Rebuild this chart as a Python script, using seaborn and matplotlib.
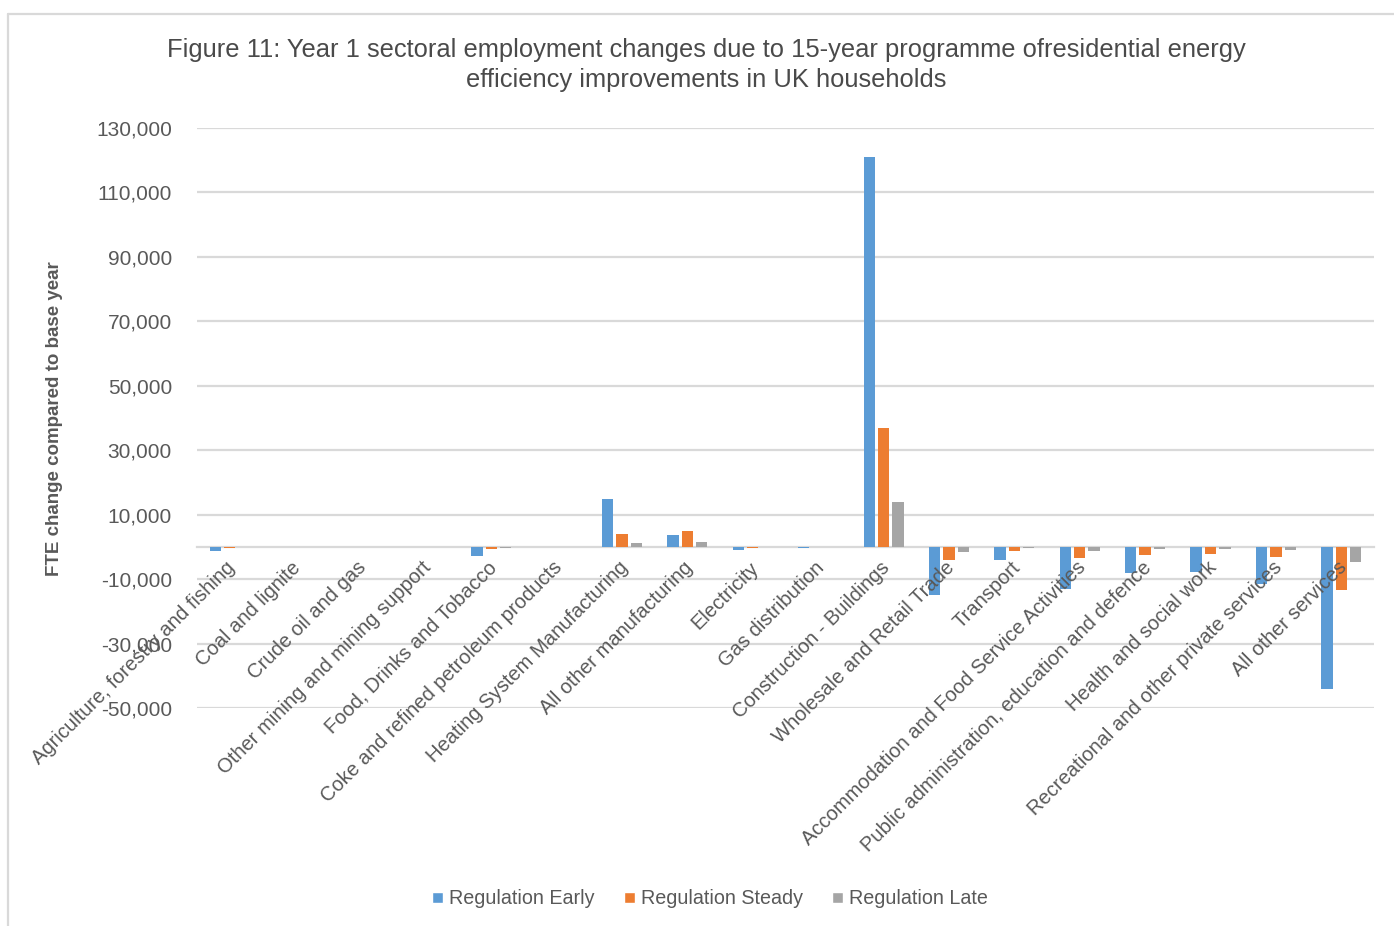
import numpy as np
import pandas as pd
import matplotlib
matplotlib.use("Agg")
import matplotlib.pyplot as plt
from matplotlib.lines import Line2D
from matplotlib.transforms import ScaledTranslation
import seaborn as sns

# Sector categories (x axis)
sectors = [
    "Agriculture, forestry and fishing",
    "Coal and lignite",
    "Crude oil and gas",
    "Other mining and mining support",
    "Food, Drinks and Tobacco",
    "Coke and refined petroleum products",
    "Heating System Manufacturing",
    "All other manufacturing",
    "Electricity",
    "Gas distribution",
    "Construction - Buildings",
    "Wholesale and Retail Trade",
    "Transport",
    "Accommodation and Food Service Activities",
    "Public administration, education and defence",
    "Health and social work",
    "Recreational and other private services",
    "All other services",
]

# FTE change compared to base year, per scenario
regulation_early = [-1300, 0, 0, 0, -2800, 0, 14800, 3700, -900, -500, 121000,
                    -14900, -4100, -13000, -8100, -7900, -11600, -44200]
regulation_steady = [-400, 0, 0, 0, -800, 0, 4000, 5000, -300, 0, 37000,
                     -4200, -1300, -3400, -2400, -2100, -3100, -13300]
regulation_late = [0, 0, 0, 0, -200, 0, 1300, 1600, 0, 0, 13800,
                   -1500, -500, -1200, -800, -700, -1000, -4800]

scenarios = ["Regulation Early", "Regulation Steady", "Regulation Late"]
colors = ["#5B9BD5", "#ED7D31", "#A5A5A5"]

y_ticks = [-50000, -30000, -10000, 10000, 30000, 50000, 70000, 90000, 110000, 130000]

title = ("Figure 11: Year 1 sectoral employment changes due to 15-year programme ofresidential energy\n"
         "efficiency improvements in UK households")
y_label = "FTE change compared to base year"

df = pd.DataFrame({
    "sector": sectors * 3,
    "scenario": np.repeat(scenarios, len(sectors)),
    "fte": regulation_early + regulation_steady + regulation_late,
})

sns.set_theme(style="white")
plt.rcParams["font.family"] = ["Liberation Sans", "DejaVu Sans"]

W, H = 1394, 926
fig = plt.figure(figsize=(W / 100, H / 100), dpi=100)
ax = fig.add_axes([197 / W, 1 - 708 / H, (1374 - 197) / W, (708 - 128) / H])

sns.barplot(data=df, x="sector", y="fte", hue="scenario", order=sectors,
            hue_order=scenarios, palette=colors, width=0.66, saturation=1,
            errorbar=None, ax=ax, zorder=2)

# narrow each bar inside its slot to leave a small gap between series
for p in ax.patches:
    w = p.get_width()
    if w > 0:
        cx = p.get_x() + w / 2
        nw = w * 0.79
        p.set_x(cx - nw / 2)
        p.set_width(nw)
        p.set_linewidth(0)

handles, labels = ax.get_legend_handles_labels()
if ax.get_legend() is not None:
    ax.get_legend().remove()

grid_color = "#D9D9D9"
text_color = "#595959"

ax.set_ylim(-50000, 130000)
ax.set_xlim(-0.5, len(sectors) - 0.5)
ax.set_yticks(y_ticks)
ax.set_yticklabels([f"{v:,}" for v in y_ticks], fontsize=15, color=text_color)
# gridlines kept underneath the bars; axis labels stay on top of them
ax.grid(False)
for v in y_ticks:
    ax.axhline(v, color=grid_color, linewidth=1.6, zorder=0.5)
ax.set_axisbelow(False)
ax.tick_params(axis="y", length=0, pad=18)

for s in ["left", "right", "top"]:
    ax.spines[s].set_visible(False)
ax.spines["bottom"].set_position(("data", 0))
ax.spines["bottom"].set_color(grid_color)
ax.spines["bottom"].set_linewidth(1.6)
ax.spines["bottom"].set_zorder(0.6)

ax.set_xlabel("")
ax.set_ylabel("")
ax.tick_params(axis="x", length=0, pad=8)
ax.set_xticks(range(len(sectors)))
ax.set_xticklabels(sectors, rotation=45, ha="right", rotation_mode="anchor",
                   fontsize=14.5, color=text_color)
shift = ScaledTranslation(-4 / 100, 0, fig.dpi_scale_trans)
for lbl in ax.get_xticklabels():
    lbl.set_transform(lbl.get_transform() + shift)

fig.text(55 / W, 1 - 419 / H, y_label, rotation=90, ha="center", va="center",
         fontsize=13.5, fontweight="bold", color=text_color)

fig.text(706 / W, 1 - 65 / H, title, ha="center", va="center", fontsize=18.4,
         color="#4A4A4A", linespacing=1.36)

fig.legend(handles, labels, loc="center", bbox_to_anchor=(710 / W, 1 - 899 / H),
           ncol=3, frameon=False, fontsize=14.2, handlelength=0.55, handleheight=0.55,
           handletextpad=0.3, columnspacing=1.5, labelcolor=text_color)

# chart frame (top and left edges)
fig.add_artist(Line2D([8 / W, 1], [1 - 14 / H, 1 - 14 / H], color=grid_color,
                      linewidth=1.6, transform=fig.transFigure))
fig.add_artist(Line2D([8 / W, 8 / W], [0, 1 - 14 / H], color=grid_color,
                      linewidth=1.6, transform=fig.transFigure))

fig.savefig("out.png", dpi=100, facecolor="white")
